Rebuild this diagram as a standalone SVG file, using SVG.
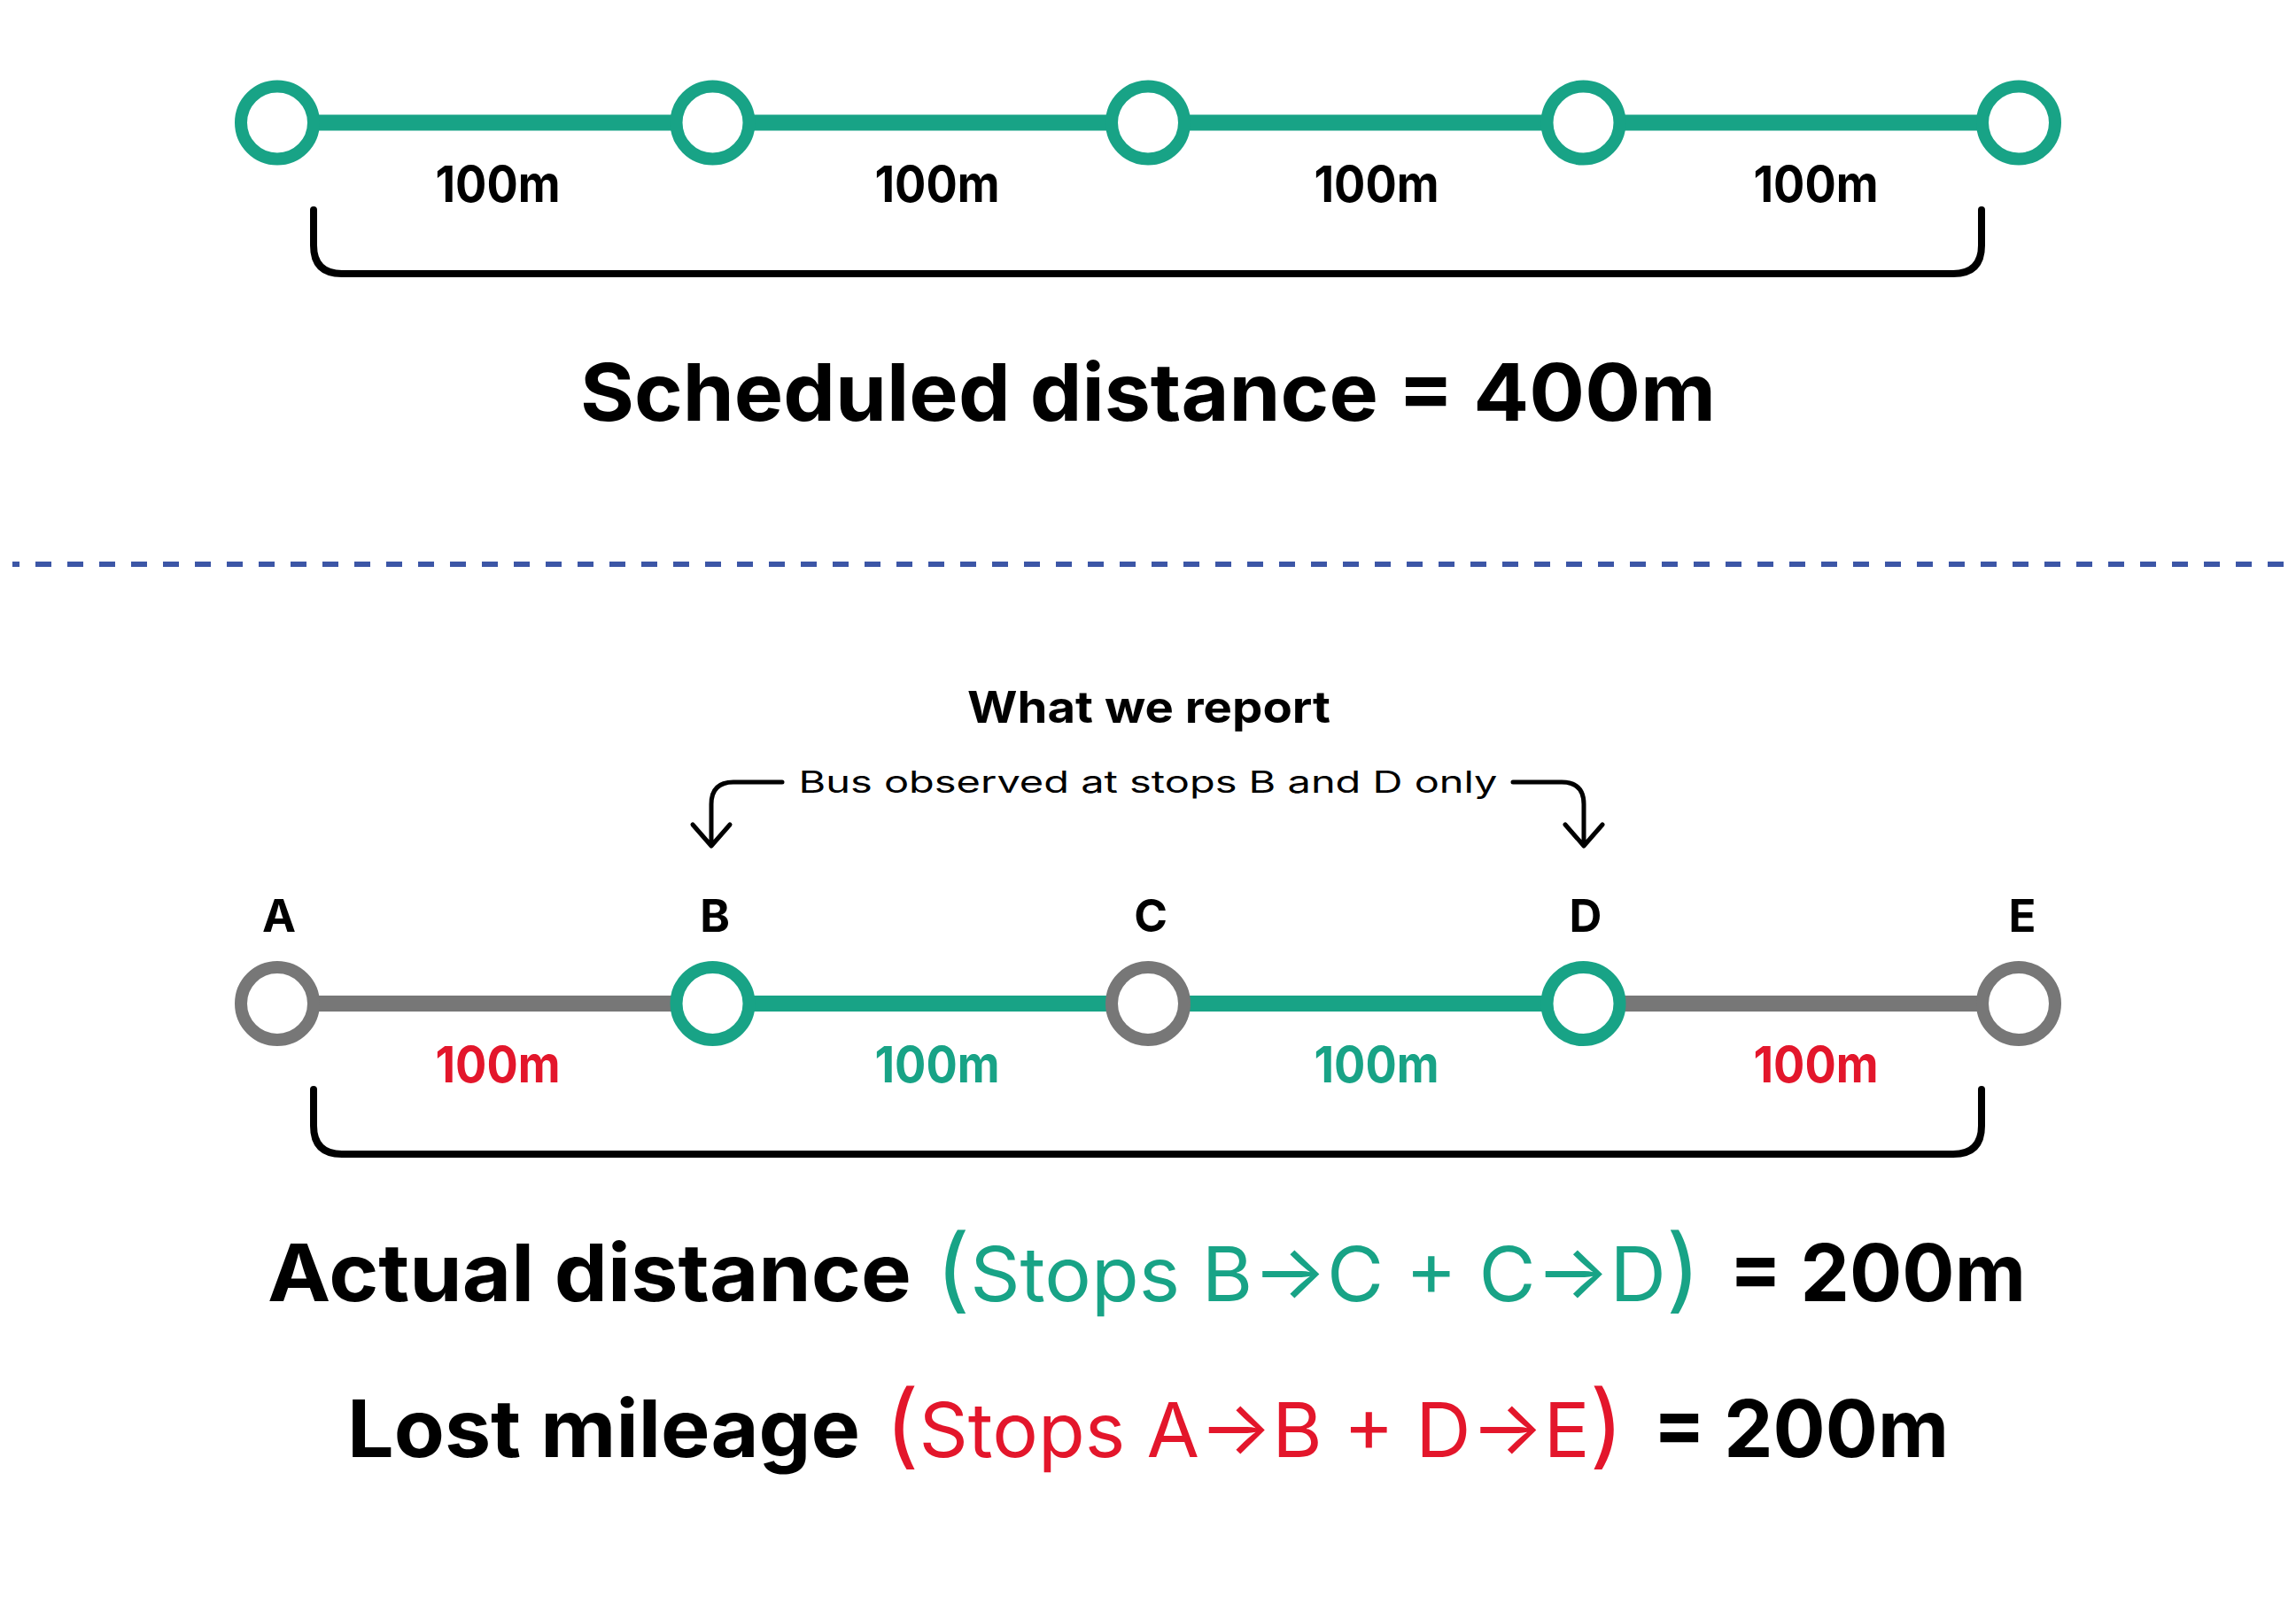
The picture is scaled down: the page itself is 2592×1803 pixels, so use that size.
<svg xmlns="http://www.w3.org/2000/svg" width="2592" height="1803" viewBox="0 0 2592 1803">
<style>
.seg{stroke-width:18;fill:none}
.g{stroke:#18A386}
.gr{stroke:#777777}
.stop{fill:#ffffff;stroke-width:14}
.br{fill:none;stroke:#000;stroke-width:8;stroke-linecap:round;stroke-linejoin:round}
.arr{fill:none;stroke:#000;stroke-width:5;stroke-linecap:round;stroke-linejoin:round}
.b{font-family:Inter,"Liberation Sans",sans-serif;font-weight:700}
.r{font-family:Inter,"Liberation Sans",sans-serif;font-weight:400}
.dist{font-size:56px;text-anchor:middle}
.lbl{font-size:51px;text-anchor:middle;fill:#000}
.big{font-size:90px}
.mid{font-size:85px}
.par{font-size:104px}
.tg{fill:#18A386}
.tr{fill:#E3162B}
</style>
<rect width="2592" height="1803" fill="#ffffff"/>
<g id="connectors">
  <g id="top-line">
    <line class="seg g" x1="313" y1="138.5" x2="804.5" y2="138.5"/>
    <line class="seg g" x1="804.5" y1="138.5" x2="1296" y2="138.5"/>
    <line class="seg g" x1="1296" y1="138.5" x2="1787.5" y2="138.5"/>
    <line class="seg g" x1="1787.5" y1="138.5" x2="2279" y2="138.5"/>
  </g>
  <g id="bottom-line">
    <line class="seg gr" x1="313" y1="1133" x2="804.5" y2="1133"/>
    <line class="seg g" x1="804.5" y1="1133" x2="1296" y2="1133"/>
    <line class="seg g" x1="1296" y1="1133" x2="1787.5" y2="1133"/>
    <line class="seg gr" x1="1787.5" y1="1133" x2="2279" y2="1133"/>
  </g>
  <path class="br" d="M354 237 L354 277 Q354 309 386 309 L2205 309 Q2237 309 2237 277 L2237 237"/>
  <path class="br" d="M354 1230 L354 1271 Q354 1303 386 1303 L2205 1303 Q2237 1303 2237 1271 L2237 1230"/>
  <path class="arr" d="M883 883 L828 883 Q803 883 803 908 L803 953 M782 931 L803 955 L824 931"/>
  <path class="arr" d="M1708 883 L1763 883 Q1788 883 1788 908 L1788 953 M1767 931 L1788 955 L1809 931"/>
  <line x1="14" y1="637" x2="2592" y2="637" stroke="#3C56A6" stroke-width="6" stroke-dasharray="18 18" stroke-dashoffset="10"/>
</g>
<g id="top-stops">
  <circle id="t1" class="stop g" cx="313" cy="138.5" r="41"/>
  <circle id="t2" class="stop g" cx="804.5" cy="138.5" r="41"/>
  <circle id="t3" class="stop g" cx="1296" cy="138.5" r="41"/>
  <circle id="t4" class="stop g" cx="1787.5" cy="138.5" r="41"/>
  <circle id="t5" class="stop g" cx="2279" cy="138.5" r="41"/>
</g>
<g id="top-labels" class="b dist">
  <text x="562" y="228" textLength="141" lengthAdjust="spacingAndGlyphs">100m</text>
  <text x="1058" y="228" textLength="141" lengthAdjust="spacingAndGlyphs">100m</text>
  <text x="1554" y="228" textLength="141" lengthAdjust="spacingAndGlyphs">100m</text>
  <text x="2050" y="228" textLength="141" lengthAdjust="spacingAndGlyphs">100m</text>
</g>
<g id="scheduled">
  <text class="b big" x="655" y="475" textLength="1282" lengthAdjust="spacingAndGlyphs">Scheduled distance = 400m</text>
</g>
<g id="report">
  <text class="b" x="1297" y="816" font-size="50" text-anchor="middle" textLength="410" lengthAdjust="spacingAndGlyphs">What we report</text>
  <text class="r" x="1296" y="895" font-size="34" text-anchor="middle" textLength="789" lengthAdjust="spacingAndGlyphs">Bus observed at stops B and D only</text>
</g>
<g id="stop-A"><circle class="stop gr" cx="313" cy="1133" r="41"/><text class="b lbl" x="315" y="1052">A</text></g>
<g id="stop-B"><circle class="stop g" cx="804.5" cy="1133" r="41"/><text class="b lbl" x="807" y="1052">B</text></g>
<g id="stop-C"><circle class="stop gr" cx="1296" cy="1133" r="41"/><text class="b lbl" x="1299" y="1052">C</text></g>
<g id="stop-D"><circle class="stop g" cx="1787.5" cy="1133" r="41"/><text class="b lbl" x="1790" y="1052">D</text></g>
<g id="stop-E"><circle class="stop gr" cx="2279" cy="1133" r="41"/><text class="b lbl" x="2283" y="1052">E</text></g>
<g id="bottom-labels" class="b dist">
  <text class="tr" x="562" y="1222" textLength="141" lengthAdjust="spacingAndGlyphs">100m</text>
  <text class="tg" x="1058" y="1222" textLength="141" lengthAdjust="spacingAndGlyphs">100m</text>
  <text class="tg" x="1554" y="1222" textLength="141" lengthAdjust="spacingAndGlyphs">100m</text>
  <text class="tr" x="2050" y="1222" textLength="141" lengthAdjust="spacingAndGlyphs">100m</text>
</g>
<g id="actual">
  <text class="b big" x="302" y="1469" textLength="727" lengthAdjust="spacingAndGlyphs">Actual distance</text>
  <text class="r mid tg" x="1056" y="1469" textLength="864" lengthAdjust="spacingAndGlyphs"><tspan class="par">(</tspan>Stops B→C + C→D<tspan class="par">)</tspan></text>
  <text class="b big" x="1952" y="1469" textLength="335" lengthAdjust="spacingAndGlyphs">= 200m</text>
</g>
<g id="lost">
  <text class="b big" x="392" y="1645" textLength="579" lengthAdjust="spacingAndGlyphs">Lost mileage</text>
  <text class="r mid tr" x="999" y="1645" textLength="834" lengthAdjust="spacingAndGlyphs"><tspan class="par">(</tspan>Stops A→B + D→E<tspan class="par">)</tspan></text>
  <text class="b big" x="1866" y="1645" textLength="334" lengthAdjust="spacingAndGlyphs">= 200m</text>
</g>
</svg>
